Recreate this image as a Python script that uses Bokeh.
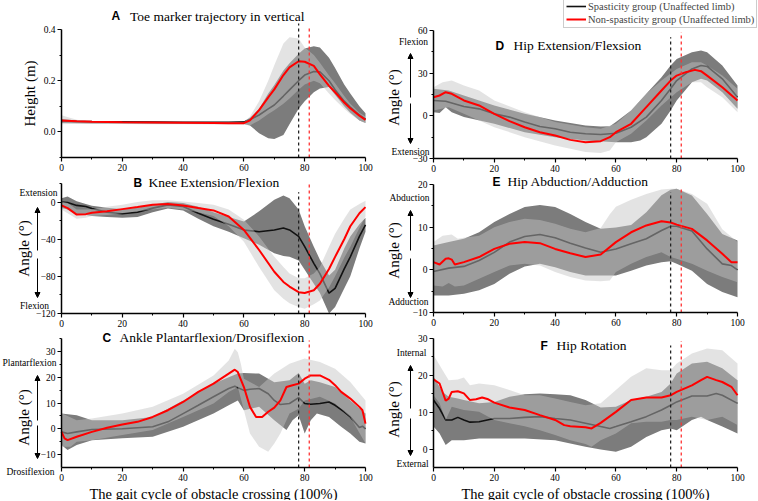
from bokeh.plotting import figure
from bokeh.layouts import gridplot
from bokeh.models import (Label, Arrow, NormalHead, FixedTicker, Range1d, Legend, LegendItem,
                          NumeralTickFormatter, LinearAxis)
from bokeh.embed import file_html
from bokeh.resources import INLINE
import math

# ---------------- data ----------------
EVENT_X = [78, 81.5]  # black (spasticity) / red (non-spasticity) event lines

# A  Toe marker trajectory
A_x = [0, 5, 10, 20, 30, 40, 50, 55, 60, 62, 65, 68, 70, 73, 75, 78, 80, 83, 85, 88, 90, 93, 95, 98, 100]
A_red = [0.045, 0.042, 0.040, 0.038, 0.037, 0.036, 0.035, 0.034, 0.034, 0.045, 0.085, 0.135, 0.166, 0.222, 0.252, 0.276, 0.274, 0.258, 0.225, 0.180, 0.155, 0.115, 0.092, 0.063, 0.047]
A_blk = [0.043, 0.041, 0.040, 0.039, 0.038, 0.037, 0.037, 0.037, 0.038, 0.048, 0.066, 0.090, 0.105, 0.140, 0.164, 0.200, 0.222, 0.236, 0.235, 0.200, 0.165, 0.120, 0.097, 0.066, 0.050]
A_dark_up = [0.050, 0.045, 0.042, 0.042, 0.042, 0.042, 0.042, 0.042, 0.042, 0.055, 0.090, 0.150, 0.183, 0.240, 0.268, 0.305, 0.326, 0.335, 0.330, 0.290, 0.250, 0.185, 0.150, 0.100, 0.073]
A_dark_lo = [0.035, 0.034, 0.033, 0.033, 0.032, 0.032, 0.032, 0.032, 0.031, 0.025, -0.005, -0.025, -0.028, -0.012, 0.030, 0.090, 0.120, 0.155, 0.170, 0.175, 0.145, 0.100, 0.075, 0.045, 0.035]
A_light_up = [0.065, 0.047, 0.041, 0.040, 0.040, 0.040, 0.040, 0.040, 0.038, 0.060, 0.120, 0.200, 0.260, 0.345, 0.370, 0.365, 0.330, 0.300, 0.270, 0.220, 0.190, 0.140, 0.110, 0.075, 0.060]
A_light_lo = [0.030, 0.032, 0.032, 0.031, 0.030, 0.030, 0.029, 0.029, 0.028, 0.025, 0.045, 0.070, 0.085, 0.110, 0.130, 0.165, 0.185, 0.200, 0.190, 0.150, 0.125, 0.090, 0.070, 0.045, 0.035]

# B  Knee
B_x = [0, 2, 5, 8, 10, 15, 20, 25, 30, 35, 40, 45, 50, 55, 60, 65, 70, 73, 75, 78, 80, 83, 85, 88, 90, 93, 95, 98, 100]
B_red = [-3.6, -6.5, -13.5, -13, -11.5, -10, -7.6, -5.4, -3, -2.2, -3.6, -6.5, -9, -15.5, -30, -51.6, -75, -86, -91, -97, -98, -95, -88, -72, -59, -40, -26, -12, -5.4]
B_blk = [0, -0.5, -3.6, -4.7, -7, -11, -12.6, -11, -6.5, -3, -4.7, -12, -18.4, -24, -30, -32, -30, -28, -30, -37, -48, -66, -77, -98, -93, -72, -59, -37, -24.5]
B_dark_up = [4, 6, 1, -2, -4, -6, -7.6, -6, -3, 0, -1, -5, -11, -16, -21, -10, 2.5, 7, 4, -8, -26, -48, -62, -79, -73, -50, -37, -24, -17]
B_dark_lo = [-6.5, -8, -13, -14, -15, -16, -17, -16, -11, -7, -9, -18, -26, -32, -39, -46, -55, -58, -59, -63, -73, -88, -98, -120, -113, -93, -80, -50, -32]
B_light_up = [0.7, -1, -8, -8, -7.6, -5, -3, 0, 2, 2, 0.7, -1, -3, -8, -19, -37, -59, -70, -77, -82, -82, -77, -70, -48, -34, -18, -8, -2, 1.5]
B_light_lo = [-8, -12, -18, -17, -15, -14, -12, -10, -8, -6, -8, -11, -15, -26, -42.6, -70, -95, -104, -109, -113, -115, -110, -106, -92, -80, -60, -48, -28, -15.5]

# C  Ankle
C_red_x = [0, 1, 2, 5, 10, 15, 20, 25, 30, 35, 40, 45, 50, 55, 57, 58, 60, 62, 64, 66, 68, 70, 72, 74, 76, 78, 80, 82, 85, 88, 90, 92, 95, 98, 99, 100]
C_red = [-1.2, -3.7, -4.4, -3.1, -1.2, 0.4, 1.7, 2.7, 4.6, 7.2, 10.4, 14.3, 17.5, 21.4, 22.9, 22, 16.2, 8.5, 4.6, 4.6, 6.6, 8.2, 11, 16.2, 16.9, 17.5, 19.4, 20.7, 20.7, 19, 16.9, 14.3, 11.7, 8.5, 7.2, 2]
C_blk_x = [0, 2, 5, 10, 20, 30, 35, 40, 45, 50, 55, 57, 60, 62, 65, 68, 70, 72, 75, 78, 80, 82, 85, 88, 90, 93, 95, 98, 99, 100]
C_blk = [-1.2, -1.8, -1.2, -0.3, 0, 0.8, 2.7, 5.9, 9.1, 12.4, 15.6, 16.5, 14.9, 15.3, 15.6, 13.6, 11, 9.4, 9.8, 12.1, 9.8, 9.5, 9.8, 10.4, 9.1, 6.6, 4.6, 0.5, 1, 0]
C_dark_up_x = [0, 5, 10, 20, 30, 40, 50, 55, 58, 60, 65, 68, 70, 75, 78, 80, 82, 85, 90, 95, 100]
C_dark_up = [5.9, 5.3, 3.3, 3.3, 4.6, 11, 17.5, 20, 21.4, 21.6, 21.4, 19.4, 18, 18.8, 21.6, 17.5, 18.8, 18, 16.2, 11, 5.9]
C_dark_lo_x = [0, 2, 5, 10, 20, 30, 40, 50, 55, 58, 60, 65, 70, 74, 76, 78, 80, 82, 84, 88, 92, 95, 98, 100]
C_dark_lo = [-6.3, -8.2, -6.3, -4.4, -3.7, -3.1, 0.8, 5.9, 9.1, 11, 7.2, 8.5, 3.3, -0.5, 3.3, 5.3, -1.8, 3.3, 5.9, 4.6, 0.8, -1.8, -5, -5.7]
C_light_up_x = [0, 5, 10, 20, 30, 40, 50, 55, 57, 58, 59, 60, 65, 70, 75, 80, 85, 90, 95, 100]
C_light_up = [6, 3.3, 4, 5.9, 8.5, 13.6, 20.7, 26.5, 31, 29.7, 25.2, 19.4, 16.2, 21.4, 25.2, 27.2, 25.9, 23.3, 18.1, 11]
C_light_lo_x = [0, 3, 5, 10, 20, 30, 40, 50, 55, 58, 60, 62, 65, 68, 70, 72, 75, 78, 80, 85, 90, 95, 100]
C_light_lo = [-7, -7, -5, -4.4, -2.4, -0.5, 4.6, 9.8, 14.3, 16.2, 7.2, -1.8, -7, -8.9, -5.7, -1.8, 5.9, 7.8, 11, 12.4, 9.8, 4.6, -5.7]

# D  Hip extension/flexion
D_red_x = [0, 2, 4, 6, 10, 15, 20, 25, 30, 35, 40, 45, 50, 55, 58, 60, 65, 70, 75, 78, 80, 83, 86, 88, 90, 95, 100]
D_red = [13.1, 14.3, 16.6, 15.5, 10.8, 7.3, 1.4, -3.7, -8, -11.5, -13.8, -16.9, -18.5, -17.8, -15, -11.5, -5.6, 6.1, 17.8, 24.8, 28.3, 30.7, 32.3, 31.4, 28.3, 20.1, 10.8]
D_blk_x = [0, 4, 10, 15, 20, 25, 30, 35, 40, 45, 50, 55, 60, 65, 70, 75, 78, 80, 85, 88, 90, 95, 100]
D_blk = [10.8, 10.3, 6.6, 4.9, 1.4, -0.9, -4.4, -7.5, -9.1, -11.5, -12.6, -13.1, -12.2, -8, -0.9, 10.8, 19, 24.8, 33, 35.4, 34.7, 26, 13.1]
D_dark_up_x = [0, 5, 10, 20, 30, 40, 50, 55, 58, 60, 65, 70, 75, 78, 80, 85, 88, 90, 95, 100]
D_dark_up = [19, 17.8, 14.3, 7.3, 1.4, -3.3, -6.8, -7.5, -7.3, -4.4, 3.7, 15.5, 27.2, 35.4, 40, 44.7, 45.9, 44.7, 35.4, 21.3]
D_dark_lo_x = [0, 2, 4, 6, 10, 20, 30, 40, 50, 60, 65, 68, 70, 75, 78, 80, 85, 88, 90, 95, 100]
D_dark_lo = [2.6, 2, 6, 2.5, -0.9, -5.6, -11.5, -15, -17.3, -18.5, -18.5, -17.3, -15, -5.6, 3.7, 10.8, 23.7, 26, 24.8, 16.6, 4.9]
D_light_up_x = [0, 3, 6, 10, 15, 20, 30, 40, 50, 55, 60, 65, 70, 75, 80, 85, 88, 90, 95, 100]
D_light_up = [20.1, 23.7, 24.8, 21.3, 17.8, 10.8, 2.6, -4.4, -8, -9.1, -5.6, 3.7, 15.5, 24.8, 33, 37.7, 37.7, 35.4, 28.3, 19]
D_light_lo_x = [0, 5, 10, 15, 20, 30, 40, 50, 55, 58, 60, 65, 70, 75, 80, 85, 88, 90, 95, 100]
D_light_lo = [3.7, 6.1, 1.4, -3.3, -8, -15, -20.8, -25.5, -26.2, -24.4, -18.5, -12.6, -3.3, 7.3, 16.6, 23.7, 23.7, 20.1, 13.1, 2.6]

# E  Hip abduction/adduction
E_red_x = [0, 2, 4, 5, 6, 7, 10, 15, 20, 25, 30, 35, 40, 45, 50, 55, 60, 65, 70, 75, 78, 80, 85, 90, 95, 98, 100]
E_red = [1.8, 1.25, 2.6, 2.7, 2.4, 1.25, 1.8, 3, 4.9, 6.1, 6.5, 6.25, 4.9, 3.9, 3, 3.6, 6.5, 8.8, 10.4, 11.4, 11.1, 10.6, 9.6, 6.9, 3.75, 1.8, 1.8]
E_blk_x = [0, 5, 10, 15, 20, 25, 30, 35, 40, 45, 50, 55, 60, 65, 70, 75, 78, 80, 85, 90, 95, 98, 100]
E_blk = [-0.4, 0.4, 0.8, 2.2, 4.1, 6.5, 7.8, 8.3, 7.5, 6.25, 5.1, 4.1, 4.9, 6.1, 7.3, 9.2, 10.2, 10.2, 9.1, 4.9, 1.4, 1, 0]
E_dark_x = [0, 5, 10, 15, 20, 25, 30, 35, 40, 45, 50, 55, 60, 65, 70, 75, 78, 80, 85, 90, 95, 100]
E_dark_up = [5.7, 6.5, 7.3, 8.8, 11.2, 13.1, 14.7, 15.2, 14.7, 13.1, 11.2, 9.6, 9.9, 10.5, 13.5, 17.5, 18.75, 19, 17.4, 13.1, 8.4, 6.9]
E_dark_lo = [-6, -6, -5.6, -4.8, -3.3, -0.9, 0.8, 1.4, 0.6, -0.5, -1.3, -1.3, -1.3, -0.2, 1, 1.8, 2, 1.4, -0.2, -3.3, -5.2, -6.4]
E_light_up_x = [0, 3, 6, 8, 10, 15, 20, 25, 30, 35, 40, 45, 50, 55, 58, 60, 65, 70, 75, 78, 80, 85, 90, 95, 100]
E_light_up = [6.5, 8, 8.3, 7.3, 7.5, 8, 10, 11.2, 12, 11.7, 10.8, 9.6, 8.8, 9.8, 13, 14.8, 16.4, 17.8, 18.8, 19, 19, 17.8, 15.5, 9.5, 6.5]
E_light_lo_x = [0, 3, 5, 7, 10, 15, 20, 25, 30, 35, 40, 45, 50, 55, 58, 60, 65, 70, 75, 78, 80, 85, 90, 95, 100]
E_light_lo = [-3.7, -3.9, -3.1, -3.9, -3.7, -2.1, -0.5, 1, 1.4, 1, -0.5, -1.7, -2.5, -2.7, -2.5, -0.5, 1.4, 3, 4.1, 3, 2.6, 1.4, -0.2, -1.7, -2.9]

# F  Hip rotation
F_red_x = [0, 2, 4, 5, 6, 8, 10, 12, 14, 16, 18, 20, 25, 30, 35, 40, 43, 45, 50, 52, 55, 60, 65, 70, 75, 78, 80, 85, 88, 90, 93, 95, 98, 100]
F_red = [18.9, 17.8, 13.1, 13.7, 15.5, 15.7, 15.1, 13.3, 13.5, 14, 13.5, 12.6, 11.3, 10.6, 9.2, 7.9, 6.5, 6.2, 5.9, 5.6, 7.1, 10.1, 13.3, 14, 14, 14.6, 15.5, 17.3, 18.7, 19.6, 18.7, 18.2, 16.9, 14.6]
F_blk_x = [0, 2, 4, 6, 8, 10, 12, 15, 20, 25, 30, 35, 40, 45, 50, 55, 58, 60, 65, 70, 75, 78, 80, 85, 90, 93, 95, 100]
F_blk = [13.3, 11, 7.9, 7.9, 8.6, 7.9, 7.3, 7.4, 8.3, 8.3, 8.6, 8.8, 8.3, 7.9, 7, 6.1, 5.6, 6.1, 7.4, 8.8, 10.6, 11.9, 12.8, 14.4, 14.4, 15.1, 14.6, 12.4]
F_dark_up_x = [0, 3, 5, 8, 10, 15, 20, 25, 30, 35, 40, 45, 50, 55, 60, 65, 70, 75, 78, 80, 85, 90, 95, 100]
F_dark_up = [19.6, 15.5, 14.2, 13.7, 13.3, 12.4, 12.8, 14.2, 14.9, 15.1, 14.9, 14.6, 13.3, 11.3, 11.5, 13.3, 14.2, 15.5, 17.8, 20.5, 23.2, 23.7, 21.9, 18.7]
F_dark_lo_x = [0, 2, 4, 6, 10, 15, 20, 30, 40, 50, 55, 60, 65, 70, 75, 78, 80, 85, 88, 90, 95, 100]
F_dark_lo = [6.1, 4.2, 1.1, 2.4, 2.4, 2.9, 2.9, 2.9, 2.4, 0.6, -0.1, -0.7, 0.6, 3.3, 5.1, 5.6, 5.1, 7.9, 8.8, 7.9, 6.1, 4.2]
F_light_up_x = [0, 3, 5, 8, 10, 12, 15, 20, 25, 30, 35, 40, 45, 50, 55, 60, 65, 70, 75, 78, 80, 85, 90, 95, 100]
F_light_up = [25.5, 21.4, 18.7, 18.9, 19.4, 17.3, 17.8, 17.3, 16, 14.6, 14.6, 13.7, 12.8, 11.9, 12.4, 16, 19.6, 21.9, 21.4, 21.4, 23.2, 25.9, 27.3, 26.8, 23.2]
F_light_lo_x = [0, 2, 4, 6, 10, 15, 20, 25, 30, 35, 40, 45, 50, 52, 55, 60, 65, 70, 75, 78, 80, 85, 90, 95, 100]
F_light_lo = [14.6, 12.4, 7.9, 11.5, 10.6, 10.1, 7.9, 7, 6.2, 5.1, 3.8, 2.4, 1.4, 0.6, 2.4, 4.2, 7, 7.4, 7.4, 7.9, 7.9, 8.8, 7.9, 8.8, 6.5]

X_TICKS = [0, 20, 40, 60, 80, 100]
X_MINOR = [10, 30, 50, 70, 90]

# ---------------- layout / styling ----------------
SERIF = "Liberation Serif"
SANS = "Liberation Sans"
DARK_FILL = "#7c7c7c"
LIGHT_FILL = "#c3c3c3"
LIGHT_ALPHA = 0.47
BLK = "#111111"
RED = "#ff0000"

COL_X = [(0, 380), (380, 757)]        # page x extent of each column canvas
ROW_Y = [(0, 172), (172, 330), (330, 500)]  # page y extent of each row canvas
FRAME_W = 304                          # pixel width of the 0..100 data span


def make_panel(spec):
    r, c = spec["row"], spec["col"]
    cx0, cx1 = COL_X[c]
    cy0, cy1 = ROW_Y[r]
    y0, y1 = spec["ylim"]
    span = y1 - y0
    top, hh = spec["ref_top"], spec["ref_h"]
    left = spec["ref_left"]

    def xd(px):  # page x -> data x
        return (px - left) / FRAME_W * 100.0

    def yd(py):  # page y -> data y
        return y1 - (py - top) / hh * span

    p = figure(width=cx1 - cx0, height=cy1 - cy0, output_backend="svg", toolbar_location=None,
               x_range=Range1d(xd(cx0), xd(cx1)), y_range=Range1d(yd(cy1), yd(cy0)),
               x_axis_location=None, y_axis_location=None,
               min_border=0, min_border_left=0, min_border_right=0,
               min_border_top=0, min_border_bottom=0)
    p.outline_line_color = None
    p.background_fill_color = "white"
    p.border_fill_color = "white"
    p.grid.visible = False

    xax = LinearAxis(fixed_location=y0, bounds=(0, 100),
                     ticker=FixedTicker(ticks=X_TICKS, minor_ticks=X_MINOR))
    yax = LinearAxis(fixed_location=0, bounds=(y0, y1),
                     ticker=FixedTicker(ticks=spec["yticks"], minor_ticks=spec["yminor"]))
    if spec.get("yfmt"):
        yax.formatter = NumeralTickFormatter(format=spec["yfmt"])
    for ax in (xax, yax):
        ax.axis_line_width = 1.5
        ax.axis_line_color = "black"
        ax.major_tick_line_color = "black"
        ax.minor_tick_line_color = "black"
        ax.major_tick_line_width = 1.2
        ax.major_tick_out = 4
        ax.major_tick_in = 0
        ax.minor_tick_out = 2
        ax.minor_tick_in = 0
        ax.major_label_text_font = SERIF
        ax.major_label_text_font_size = "9.5px"
        ax.major_label_text_color = "black"
        ax.major_label_standoff = 2
    p.add_layout(xax, "below")
    p.add_layout(yax, "left")

    # bands and mean lines
    dux, duy, dlx, dly = spec["dark"]
    p.patch(list(dux) + list(dlx)[::-1], list(duy) + list(dly)[::-1],
            fill_color=DARK_FILL, line_color=None)
    bx, by = spec["blk"]
    blk = p.line(bx, by, line_color=BLK, line_width=1.6)
    lux, luy, llx, lly = spec["light"]
    p.patch(list(lux) + list(llx)[::-1], list(luy) + list(lly)[::-1],
            fill_color=LIGHT_FILL, fill_alpha=LIGHT_ALPHA, line_color=None)
    rx, ry = spec["red"]
    red = p.line(rx, ry, line_color=RED, line_width=2)

    # event lines
    tops = spec["event_top"]
    p.segment(x0=[EVENT_X[0]], y0=[y0], x1=[EVENT_X[0]], y1=[tops[0]],
              line_color="#222222", line_dash="3 3", line_width=1.3)
    p.segment(x0=[EVENT_X[1]], y0=[y0], x1=[EVENT_X[1]], y1=[tops[1]],
              line_color="#ff3030", line_dash="3 3", line_width=1.3)

    # panel title
    lx, tx, ty = spec["title_pos"]
    p.add_layout(Label(x=xd(lx), y=yd(ty), text=spec["letter"], text_font=SANS,
                       text_font_style="bold", text_font_size="12px",
                       text_baseline="middle", text_align="left", text_color="black"))
    p.add_layout(Label(x=xd(tx), y=yd(ty), text=spec["title"], text_font=SERIF,
                       text_font_size="13.5px", text_baseline="middle", text_align="left",
                       text_color="black"))

    # y label, direction words and arrows
    ylx, yly = spec["ylabel_pos"]
    p.add_layout(Label(x=xd(ylx), y=yd(yly), text=spec["ylabel"], text_font=SERIF,
                       text_font_size="15px", angle=math.pi / 2, text_align="center",
                       text_baseline="middle", text_color="black"))
    if spec.get("words"):
        for w, wx, wy in spec["words"]:
            p.add_layout(Label(x=xd(wx), y=yd(wy), text=w, text_font=SERIF,
                               text_font_size="9.5px", text_align="center",
                               text_baseline="middle", text_color="black"))
        ax_, (ua, ub), (da, db) = spec["arrows"]
        for a, b in ((ua, ub), (da, db)):
            p.add_layout(Arrow(end=NormalHead(size=5, line_color="black", fill_color="black", line_width=1),
                               x_start=xd(ax_), y_start=yd(a), x_end=xd(ax_), y_end=yd(b),
                               line_color="black", line_width=1))
    if r == 2:
        p.add_layout(Label(x=50, y=yd(top + hh + 26), text="The gait cycle of obstacle crossing (100%)",
                           text_font=SERIF, text_font_size="14.5px", text_align="center",
                           text_baseline="middle", text_color="black"))
    return p, blk, red


specs = [
    dict(row=0, col=0, letter="A", title="Toe marker trajectory in vertical", ylim=(-0.1, 0.4),
         yticks=[0.0, 0.2, 0.4], yminor=[-0.1, 0.1, 0.3], yfmt="0.0",
         dark=(A_x, A_dark_up, A_x, A_dark_lo), light=(A_x, A_light_up, A_x, A_light_lo),
         blk=(A_x, A_blk), red=(A_x, A_red), event_top=[0.423, 0.404],
         ref_left=61, ref_top=29, ref_h=128, title_pos=(111, 129.5, 15.5),
         ylabel="Height (m)", ylabel_pos=(29, 93)),
    dict(row=1, col=0, letter="B", title="Knee Extension/Flexion", ylim=(-120, 20),
         yticks=[-120, -80, -40, 0], yminor=[-100, -60, -20, 20],
         dark=(B_x, B_dark_up, B_x, B_dark_lo), light=(B_x, B_light_up, B_x, B_light_lo),
         blk=(B_x, B_blk), red=(B_x, B_red), event_top=[10.6, 20.3],
         ref_left=61, ref_top=183, ref_h=130, title_pos=(133, 148, 182),
         ylabel="Angle (°)", ylabel_pos=(23, 248),
         words=(("Extension", 38, 192), ("Flexion", 34, 305)),
         arrows=(37, (250, 207), (258, 297))),
    dict(row=2, col=0, letter="C", title="Ankle Plantarflexion/Drosiflexion", ylim=(-15, 35),
         yticks=[-10, 0, 10, 20, 30], yminor=[-5, 5, 15, 25, 35],
         dark=(C_dark_up_x, C_dark_up, C_dark_lo_x, C_dark_lo),
         light=(C_light_up_x, C_light_up, C_light_lo_x, C_light_lo),
         blk=(C_blk_x, C_blk), red=(C_red_x, C_red), event_top=[21.9, 34.2],
         ref_left=61, ref_top=338, ref_h=129, title_pos=(102, 119, 337),
         ylabel="Angle (°)", ylabel_pos=(23, 417),
         words=(("Plantarflexion", 29, 362), ("Drosiflexion", 30, 471)),
         arrows=(37, (420, 375), (425, 458))),
    dict(row=0, col=1, letter="D", title="Hip Extension/Flexsion", ylim=(-30, 60),
         yticks=[-30, 0, 30, 60], yminor=[-15, 15, 45],
         dark=(D_dark_up_x, D_dark_up, D_dark_lo_x, D_dark_lo),
         light=(D_light_up_x, D_light_up, D_light_lo_x, D_light_lo),
         blk=(D_blk_x, D_blk), red=(D_red_x, D_red), event_top=[55.3, 58.8],
         ref_left=433, ref_top=30, ref_h=128, title_pos=(495, 513, 45),
         ylabel="Angle (°)", ylabel_pos=(393, 97),
         words=(("Flexion", 413, 41), ("Extension", 410, 151)),
         arrows=(410, (97, 53), (103, 143))),
    dict(row=1, col=1, letter="E", title="Hip Abduction/Adduction", ylim=(-10, 20),
         yticks=[-10, 0, 10, 20], yminor=[-5, 5, 15],
         dark=(E_dark_x, E_dark_up, E_dark_x, E_dark_lo),
         light=(E_light_up_x, E_light_up, E_light_lo_x, E_light_lo),
         blk=(E_blk_x, E_blk), red=(E_red_x, E_red), event_top=[18.2, 19.5],
         ref_left=433, ref_top=184, ref_h=128, title_pos=(492, 507, 181),
         ylabel="Angle (°)", ylabel_pos=(393, 250),
         words=(("Abduction", 409, 197), ("Adduction", 408, 301)),
         arrows=(410, (250, 210), (258, 297))),
    dict(row=2, col=1, letter="F", title="Hip Rotation", ylim=(-5, 30),
         yticks=[0, 10, 20, 30], yminor=[5, 15, 25],
         dark=(F_dark_up_x, F_dark_up, F_dark_lo_x, F_dark_lo),
         light=(F_light_up_x, F_light_up, F_light_lo_x, F_light_lo),
         blk=(F_blk_x, F_blk), red=(F_red_x, F_red), event_top=[28.1, 29.3],
         ref_left=433, ref_top=338, ref_h=129, title_pos=(540, 556, 345),
         ylabel="Angle (°)", ylabel_pos=(393, 409),
         words=(("Internal", 411, 352), ("External", 412, 463)),
         arrows=(410, (408, 365), (418, 455))),
]

figs = {}
lines = {}
for s in specs:
    f, b, rr = make_panel(s)
    figs[(s["row"], s["col"])] = f
    lines[(s["row"], s["col"])] = (b, rr)

# legend (in the top-right panel, above its plotting area)
pD = figs[(0, 1)]
bD, rD = lines[(0, 1)]
legend = Legend(items=[LegendItem(label="Spasticity group (Unaffected limb)", renderers=[bD]),
                       LegendItem(label="Non-spasticity group (Unaffected limb)", renderers=[rD])],
                location=(563 - COL_X[1][0], ROW_Y[0][1] - 28), orientation="vertical",
                label_text_font=SERIF, label_text_font_size="10.5px",
                glyph_width=20, glyph_height=12, label_height=12, label_standoff=2,
                spacing=1, padding=2, margin=0,
                border_line_color="#999999", border_line_width=1,
                background_fill_color="white", background_fill_alpha=1)
pD.add_layout(legend, "center")

grid = gridplot([[figs[(0, 0)], figs[(0, 1)]],
                 [figs[(1, 0)], figs[(1, 1)]],
                 [figs[(2, 0)], figs[(2, 1)]]], toolbar_location=None)

open("out.html", "w").write(file_html(grid, INLINE))
